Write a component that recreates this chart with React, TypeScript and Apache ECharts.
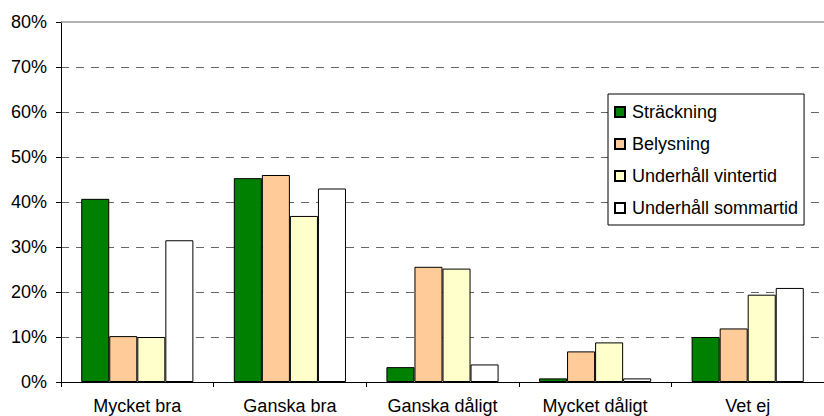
import React, { useEffect, useRef } from "react";
import * as echarts from "echarts";

const categories = ["Mycket bra", "Ganska bra", "Ganska dåligt", "Mycket dåligt", "Vet ej"];
const seriesNames = ["Sträckning", "Belysning", "Underhåll vintertid", "Underhåll sommartid"];
const strackning = [40.7, 45.3, 3.3, 0.8, 10.0];
const belysning = [10.2, 46.0, 25.6, 6.8, 11.9];
const vintertid = [10.0, 36.9, 25.2, 8.8, 19.4];
const sommartid = [31.5, 43.0, 3.9, 0.8, 20.9];
const colors = ["#008000", "#FFCC99", "#FFFFCC", "#FFFFFF"];
const yTicks = { min: 0, max: 80, interval: 10 };

const FONT = "'Liberation Sans', Arial, sans-serif";

export default function App() {
  const ref = useRef<HTMLDivElement>(null);
  useEffect(() => {
    if (!ref.current) return;
    const chart = echarts.init(ref.current, undefined, { renderer: "svg" });
    const values = [strackning, belysning, vintertid, sommartid];
    chart.setOption({
      animation: false,
      backgroundColor: "#ffffff",
      textStyle: { fontFamily: FONT },
      grid: { left: 61, top: 22, width: 769, height: 360, containLabel: false },
      legend: {
        orient: "vertical",
        left: 608,
        top: 94,
        width: 195,
        padding: [9, 6, 8, 6],
        itemGap: 14,
        itemWidth: 10,
        itemHeight: 10,
        icon: "rect",
        borderColor: "#000",
        borderWidth: 1,
        backgroundColor: "#fff",
        textStyle: { fontSize: 18, color: "#000", fontFamily: FONT, lineHeight: 18, padding: [0, 0, 0, 2] },
        data: seriesNames,
      },
      xAxis: {
        type: "category",
        data: categories,
        axisLine: { lineStyle: { color: "#000", width: 1 } },
        axisTick: { show: true, length: 5, lineStyle: { color: "#000" } },
        axisLabel: { interval: 0, fontSize: 18, color: "#000", margin: 15, fontFamily: FONT },
      },
      yAxis: {
        type: "value",
        min: yTicks.min,
        max: yTicks.max,
        interval: yTicks.interval,
        axisLine: { show: true, lineStyle: { color: "#000", width: 1 } },
        axisTick: { show: true, length: 5, lineStyle: { color: "#000" } },
        axisLabel: { formatter: "{value}%", fontSize: 18, color: "#000", margin: 14, fontFamily: FONT },
        splitLine: {
          show: true,
          showMaxLine: false,
          lineStyle: { color: "#666", type: [8, 7], width: 1 },
        },
      },
      series: seriesNames.map((name, i) => ({
        name,
        type: "bar",
        data: values[i],
        barGap: "0%",
        barCategoryGap: "26.5%",
        itemStyle: { color: colors[i], borderColor: "#000", borderWidth: 1 },
        ...(i === 0
          ? {
              markLine: {
                silent: true,
                symbol: "none",
                label: { show: false },
                lineStyle: { color: "#999", type: "solid", width: 1.5 },
                data: [{ yAxis: yTicks.max }],
              },
            }
          : {}),
      })),
    });
    return () => chart.dispose();
  }, []);
  return (
    <div
      ref={ref}
      style={{ width: 824, height: 416, position: "fixed", left: 0, top: 0, background: "#fff" }}
    />
  );
}
